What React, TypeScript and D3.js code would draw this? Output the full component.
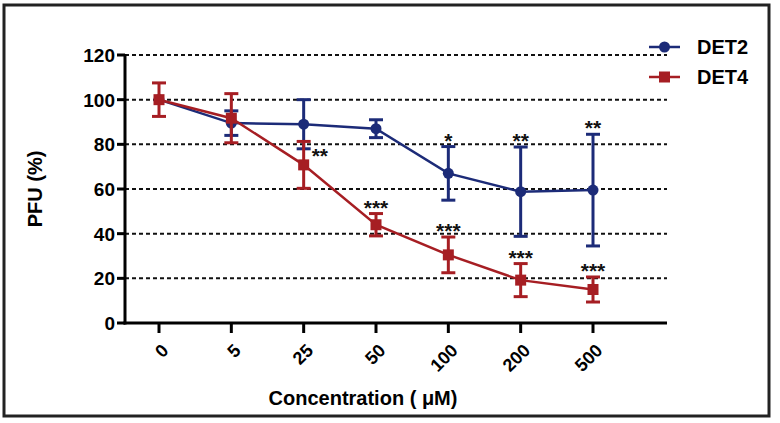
import * as d3 from "d3";

const concentrations = ["0", "5", "25", "50", "100", "200", "500"];
const det2Mean = [100, 89.5, 89, 87, 67, 58.8, 59.5];
const det2Err = [0, 5.5, 11, 4, 12, 20, 25];
const det4Mean = [100, 91.7, 70.8, 44, 30.5, 19.2, 15];
const det4Err = [7.5, 11, 10.5, 5, 8, 7.4, 5.6];
const det2Stars = ["", "", "", "", "*", "**", "**"];
const det4Stars = ["", "", "**", "***", "***", "***", "***"];
const yTicks = [0, 20, 40, 60, 80, 100, 120];

const BLUE = "#1c2b78";
const RED = "#a61e23";
const FONT = "'Liberation Sans', Arial, sans-serif";

export default function App() {
  const width = 780;
  const height = 423;
  const axisLeft = 125;
  const axisRight = 667;

  const x = d3.scalePoint<string>().domain(concentrations).range([159, 593]);
  const y = d3.scaleLinear().domain([0, 120]).range([323, 55]);

  const line = d3
    .line<number>()
    .x((_, i) => x(concentrations[i])!)
    .y((d) => y(d));

  const errorBars = (means: number[], errs: number[], color: string) =>
    means.map((m, i) => {
      const cx = x(concentrations[i])!;
      if (errs[i] === 0) return null;
      const top = y(m + errs[i]);
      const bot = y(m - errs[i]);
      return (
        <g key={i} stroke={color} strokeWidth={3}>
          <line x1={cx} x2={cx} y1={top} y2={bot} />
          <line x1={cx - 7} x2={cx + 7} y1={top} y2={top} />
          <line x1={cx - 7} x2={cx + 7} y1={bot} y2={bot} />
        </g>
      );
    });

  return (
    <svg
      width={width}
      height={height}
      style={{ position: "absolute", left: 0, top: 0, background: "#fff" }}
      fontFamily={FONT}
    >
      <rect x={4} y={5} width={765} height={411} fill="none" stroke="#222" strokeWidth={3} />

      {/* grid */}
      {yTicks.slice(1).map((t) => (
        <line
          key={t}
          x1={axisLeft}
          x2={axisRight}
          y1={y(t)}
          y2={y(t)}
          stroke="#111"
          strokeWidth={2}
          strokeDasharray="4,3"
        />
      ))}

      {/* axes */}
      <line x1={axisLeft} x2={axisLeft} y1={y(120) - 1} y2={y(0) + 1.5} stroke="#000" strokeWidth={3} />
      <line x1={axisLeft - 1.5} x2={axisRight} y1={y(0)} y2={y(0)} stroke="#000" strokeWidth={3} />
      {yTicks.map((t) => (
        <g key={t}>
          <line x1={axisLeft - 8} x2={axisLeft} y1={y(t)} y2={y(t)} stroke="#000" strokeWidth={3} />
          <text
            x={axisLeft - 10}
            y={y(t)}
            dy="0.36em"
            textAnchor="end"
            fontSize={19}
            fontWeight="bold"
          >
            {t}
          </text>
        </g>
      ))}
      {concentrations.map((c) => (
        <g key={c}>
          <line x1={x(c)} x2={x(c)} y1={y(0)} y2={y(0) + 10} stroke="#000" strokeWidth={3} />
          <text
            transform={`translate(${x(c)! + 6},${y(0) + 24}) rotate(-45)`}
            textAnchor="end"
            dy="0.36em"
            fontSize={18}
            fontWeight="bold"
          >
            {c}
          </text>
        </g>
      ))}
      <text x={363} y={405} textAnchor="middle" fontSize={20} fontWeight="bold">
        Concentration ( μM)
      </text>
      <text
        transform={`translate(42,${y(60)}) rotate(-90)`}
        textAnchor="middle"
        fontSize={20}
        fontWeight="bold"
      >
        PFU (%)
      </text>

      {/* DET2 */}
      {errorBars(det2Mean, det2Err, BLUE)}
      <path d={line(det2Mean)!} fill="none" stroke={BLUE} strokeWidth={2.5} />
      {det2Mean.map((m, i) => (
        <circle key={i} cx={x(concentrations[i])} cy={y(m)} r={5.5} fill={BLUE} />
      ))}

      {/* DET4 */}
      {errorBars(det4Mean, det4Err, RED)}
      <path d={line(det4Mean)!} fill="none" stroke={RED} strokeWidth={2.5} />
      {det4Mean.map((m, i) => (
        <rect key={i} x={x(concentrations[i])! - 5.5} y={y(m) - 5.5} width={11} height={11} fill={RED} />
      ))}

      {/* significance */}
      {det2Stars.map((s, i) =>
        s ? (
          <text
            key={i}
            x={x(concentrations[i])}
            y={y(det2Mean[i] + det2Err[i]) + 1}
            textAnchor="middle"
            fontSize={21}
            fontWeight="bold"
            fill="#111"
          >
            {s}
          </text>
        ) : null
      )}
      {det4Stars.map((s, i) => {
        if (!s) return null;
        const side = i === 2;
        return (
          <text
            key={i}
            x={side ? x(concentrations[i])! + 8 : x(concentrations[i])}
            y={side ? y(det4Mean[i] + det4Err[i]) + 22 : y(det4Mean[i] + det4Err[i]) + 1}
            textAnchor={side ? "start" : "middle"}
            fontSize={21}
            fontWeight="bold"
            fill="#111"
          >
            {s}
          </text>
        );
      })}

      {/* legend */}
      <line x1={649} x2={680} y1={47} y2={47} stroke={BLUE} strokeWidth={2.5} />
      <circle cx={664.5} cy={47} r={5.5} fill={BLUE} />
      <text x={697} y={47} dy="0.36em" fontSize={20} fontWeight="bold">
        DET2
      </text>
      <line x1={649} x2={680} y1={77} y2={77} stroke={RED} strokeWidth={2.5} />
      <rect x={659} y={71.5} width={11} height={11} fill={RED} />
      <text x={697} y={77} dy="0.36em" fontSize={20} fontWeight="bold">
        DET4
      </text>
    </svg>
  );
}
